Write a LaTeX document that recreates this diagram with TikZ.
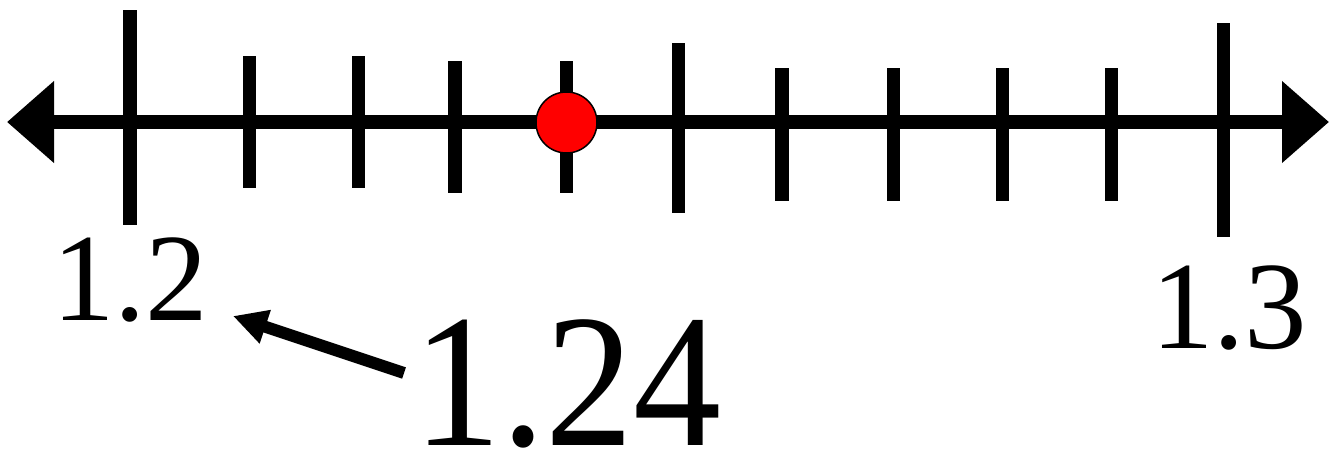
\documentclass[tikz,border=0pt]{standalone}
\usepackage{fontspec}
\setmainfont{Liberation Serif}
\usetikzlibrary{arrows.meta}
\begin{document}
\begin{tikzpicture}[x=1pt,y=-1pt,
  axisline/.style={line width=14pt,{Triangle[length=47pt,width=79pt]}-{Triangle[length=47pt,width=79pt]}},
  tick/.style={line width=13.5pt},
  pointer/.style={line width=12pt,-{Triangle[length=34pt,width=33pt]}},
  dot/.style={circle,fill=red,draw=black,line width=1.5pt,minimum size=61pt,inner sep=0pt},
  lab/.style={inner sep=0pt,anchor=base west,font=\fontsize{125}{130}\selectfont}]
\useasboundingbox (0,0) rectangle (1336,451);
% axis
\coordinate (L) at (7,122);
\coordinate (R) at (1329,122);
\draw[axisline] (L) -- (R);
% ticks
\draw[tick] (130,10) -- (130,225);
\draw[tick] (249.5,56) -- (249.5,188);
\draw[tick] (358.5,56) -- (358.5,188);
\draw[tick] (455,61) -- (455,193);
\draw[tick] (566.5,61) -- (566.5,193);
\draw[tick] (678.5,43) -- (678.5,213);
\draw[tick] (782,68) -- (782,201);
\draw[tick] (893.5,68) -- (893.5,201);
\draw[tick] (1002.5,68) -- (1002.5,201);
\draw[tick] (1111.5,68) -- (1111.5,201);
\draw[tick] (1223.5,23) -- (1223.5,237);
% point
\node[dot] (p) at (566.5,122.5) {};
% labels
\node[lab] (a) at (52,320) {1.2};
\node[lab] (b) at (1151,348) {1.3};
\node[lab,font=\fontsize{176}{180}\selectfont] (c) at (413,445) {\scalebox{1}[1.08]{1.24}};
% pointer arrow
\coordinate (s) at (404,373);
\coordinate (t) at (233,316);
\draw[pointer] (s) -- (t);
\end{tikzpicture}
\end{document}
